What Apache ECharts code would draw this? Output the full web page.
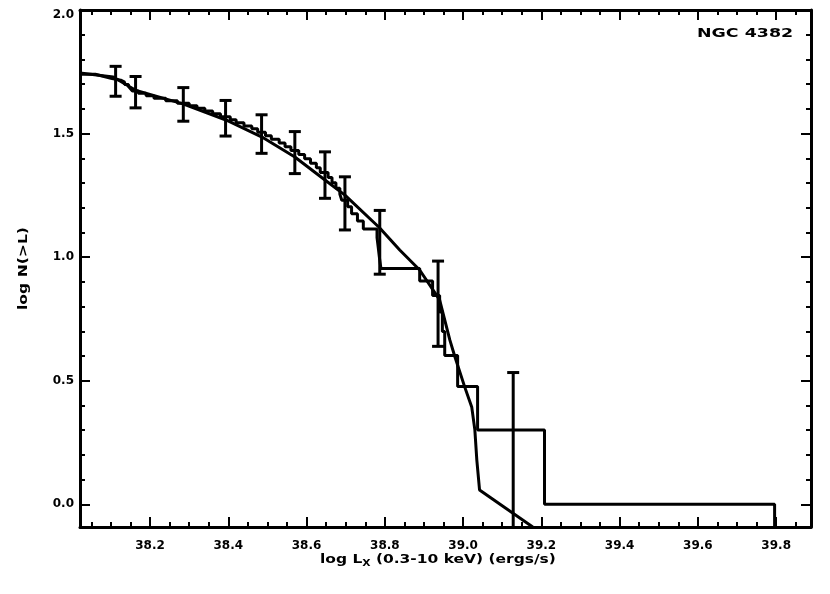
<!DOCTYPE html>
<html>
<head>
<meta charset="utf-8">
<script src="https://cdn.jsdelivr.net/npm/echarts@6/dist/echarts.min.js"></script>
<style>
html,body{margin:0;padding:0;background:#fff;}
#c{width:830px;height:594px;}
</style>
</head>
<body>
<div id="c"></div>
<script>
// ---- data ----
var xMajorTicks = [38.2, 38.4, 38.6, 38.8, 39.0, 39.2, 39.4, 39.6, 39.8];
var yMajorTicks = [0.0, 0.5, 1.0, 1.5, 2.0];
// observed cumulative distribution (step): luminosity where each level ends, and the level (log N)
var stepX = [38.021, 38.06, 38.08, 38.10, 38.125, 38.135, 38.145, 38.15, 38.155, 38.17, 38.19, 38.21, 38.24, 38.27, 38.30, 38.32, 38.34, 38.36, 38.38, 38.405, 38.42, 38.44, 38.46, 38.475, 38.495, 38.51, 38.53, 38.545, 38.56, 38.58, 38.595, 38.61, 38.625, 38.635, 38.655, 38.665, 38.675, 38.685, 38.69, 38.705, 38.715, 38.73, 38.745, 38.78, 38.783, 38.786, 38.79, 38.889, 38.922, 38.940, 38.947, 38.953, 38.986, 39.037, 39.208, 39.796];
var stepY = [1.740, 1.732, 1.724, 1.716, 1.708, 1.699, 1.690, 1.681, 1.672, 1.663, 1.653, 1.643, 1.633, 1.623, 1.613, 1.602, 1.591, 1.580, 1.568, 1.556, 1.544, 1.531, 1.519, 1.505, 1.491, 1.477, 1.462, 1.447, 1.431, 1.415, 1.398, 1.380, 1.362, 1.342, 1.322, 1.301, 1.279, 1.255, 1.230, 1.204, 1.176, 1.146, 1.114, 1.079, 1.041, 1.000, 0.954, 0.903, 0.845, 0.778, 0.699, 0.602, 0.477, 0.301, 0.000, -0.5];
// model curve
var modelX = [38.021, 38.106, 38.162, 38.284, 38.394, 38.486, 38.570, 38.647, 38.698, 38.787, 38.838, 38.889, 38.940, 38.966, 38.979, 39.004, 39.022, 39.030, 39.035, 39.042, 39.178];
var modelY = [1.745, 1.729, 1.676, 1.620, 1.555, 1.486, 1.405, 1.312, 1.251, 1.118, 1.029, 0.948, 0.827, 0.665, 0.597, 0.475, 0.394, 0.301, 0.180, 0.058, -0.092];
// error bars
var errX = [38.112, 38.163, 38.285, 38.393, 38.485, 38.570, 38.647, 38.698, 38.787, 38.936, 39.128];
var errLow = [1.651, 1.604, 1.550, 1.490, 1.420, 1.338, 1.238, 1.110, 0.931, 0.639, -0.232];
var errHigh = [1.772, 1.731, 1.686, 1.634, 1.576, 1.508, 1.426, 1.325, 1.189, 0.984, 0.533];

var X_MIN = 38.021, X_MAX = 39.889, Y_MIN = -0.092, Y_MAX = 2.0;

function minors(lo, hi, step, majors) {
  var out = [];
  var n = Math.round((hi - lo) / step);
  for (var i = 0; i <= n; i++) {
    var v = +(lo + i * step).toFixed(3);
    var isMajor = majors.some(function (m) { return Math.abs(m - v) < 1e-6; });
    if (!isMajor) out.push(v);
  }
  return out;
}
var xMinorTicks = minors(38.05, 39.85, 0.05, xMajorTicks);
var yMinorTicks = minors(0.0, 1.9, 0.1, yMajorTicks);

var FONT = 'DejaVu Sans';
var black = '#000';

function xAxisDef(pos, ticks, len, showLine, showLabel) {
  return {
    type: 'value', min: X_MIN, max: X_MAX, position: pos, gridIndex: 0,
    axisLine: { show: showLine, onZero: false, lineStyle: { color: black, width: 3 } },
    axisTick: { show: true, inside: true, length: len, customValues: ticks, lineStyle: { color: black, width: 2 } },
    axisLabel: showLabel ? { show: true, customValues: ticks, margin: 13, color: black, fontFamily: FONT, fontWeight: 'bold', fontSize: 12, formatter: function (v) { return v.toFixed(1); } } : { show: false },
    splitLine: { show: false }
  };
}
function yAxisDef(pos, ticks, len, showLine, showLabel) {
  return {
    type: 'value', min: Y_MIN, max: Y_MAX, position: pos, gridIndex: 0,
    axisLine: { show: showLine, onZero: false, lineStyle: { color: black, width: 3 } },
    axisTick: { show: true, inside: true, length: len, customValues: ticks, lineStyle: { color: black, width: 2 } },
    axisLabel: showLabel ? { show: true, customValues: ticks, margin: 6, color: black, fontFamily: FONT, fontWeight: 'bold', fontSize: 12,
      formatter: function (v) { return v >= 1.99 ? '{t|' + v.toFixed(1) + '}' : v.toFixed(1); },
      rich: { t: { fontFamily: FONT, fontWeight: 'bold', fontSize: 12, color: black, padding: [10, 0, 0, 0] } } } : { show: false },
    splitLine: { show: false }
  };
}

var chart = echarts.init(document.getElementById('c'), null, { renderer: 'canvas' });
var option = {
  animation: false,
  backgroundColor: '#fff',
  grid: { left: 80, right: 19, top: 10, bottom: 67, containLabel: false },
  xAxis: [
    xAxisDef('bottom', xMajorTicks, 10, true, true),
    xAxisDef('bottom', xMinorTicks, 5, false, false),
    xAxisDef('top', xMajorTicks, 10, true, false),
    xAxisDef('top', xMinorTicks, 5, false, false)
  ],
  yAxis: [
    yAxisDef('left', yMajorTicks, 10, true, true),
    yAxisDef('left', yMinorTicks, 5, false, false),
    yAxisDef('right', yMajorTicks, 10, true, false),
    yAxisDef('right', yMinorTicks, 5, false, false)
  ],
  graphic: [
    { type: 'text', x: 697, y: 28, scaleX: 1.45, style: { text: 'NGC 4382', fill: black, font: 'bold 12px "DejaVu Sans"' } },
    { type: 'text', x: 17, y: 310, rotation: Math.PI / 2, scaleX: 1.2, originX: 0, originY: 0,
      style: { text: 'log N(>L)', fill: black, font: 'bold 13px "DejaVu Sans"', textAlign: 'left', textVerticalAlign: 'top' } },
    { type: 'text', x: 320, y: 552, scaleX: 1.19, style: {
        text: 'log L{sub|X} (0.3-10 keV) (ergs/s)',
        fill: black, font: 'bold 13px "DejaVu Sans"',
        rich: { sub: { font: 'bold 9px "DejaVu Sans"', fill: black, padding: [7, 0, 0, 0] } }
      } }
  ],
  series: [
    {
      type: 'line', xAxisIndex: 0, yAxisIndex: 0, step: 'end', symbol: 'none',
      data: stepX.map(function (x, i) { return [x, stepY[i]]; }),
      lineStyle: { color: black, width: 3 }
    },
    {
      type: 'line', xAxisIndex: 0, yAxisIndex: 0, symbol: 'none',
      data: modelX.map(function (x, i) { return [x, modelY[i]]; }),
      lineStyle: { color: black, width: 3 }
    },
    {
      type: 'custom', xAxisIndex: 0, yAxisIndex: 0,
      data: errX.map(function (x, i) { return [x, errLow[i], errHigh[i]]; }),
      renderItem: function (params, api) {
        var x = api.value(0), lo = api.value(1), hi = api.value(2);
        var loC = Math.max(lo, Y_MIN);
        var pTop = api.coord([x, hi]);
        var pBot = api.coord([x, loC]);
        var w = 6;
        var children = [
          { type: 'line', shape: { x1: pTop[0], y1: pTop[1], x2: pBot[0], y2: pBot[1] }, style: { stroke: black, lineWidth: 3 } },
          { type: 'line', shape: { x1: pTop[0] - w, y1: pTop[1], x2: pTop[0] + w, y2: pTop[1] }, style: { stroke: black, lineWidth: 3 } }
        ];
        if (lo >= Y_MIN) {
          children.push({ type: 'line', shape: { x1: pBot[0] - w, y1: pBot[1], x2: pBot[0] + w, y2: pBot[1] }, style: { stroke: black, lineWidth: 3 } });
        }
        return { type: 'group', children: children };
      }
    }
  ]
};
chart.setOption(option);
</script>
</body>
</html>
